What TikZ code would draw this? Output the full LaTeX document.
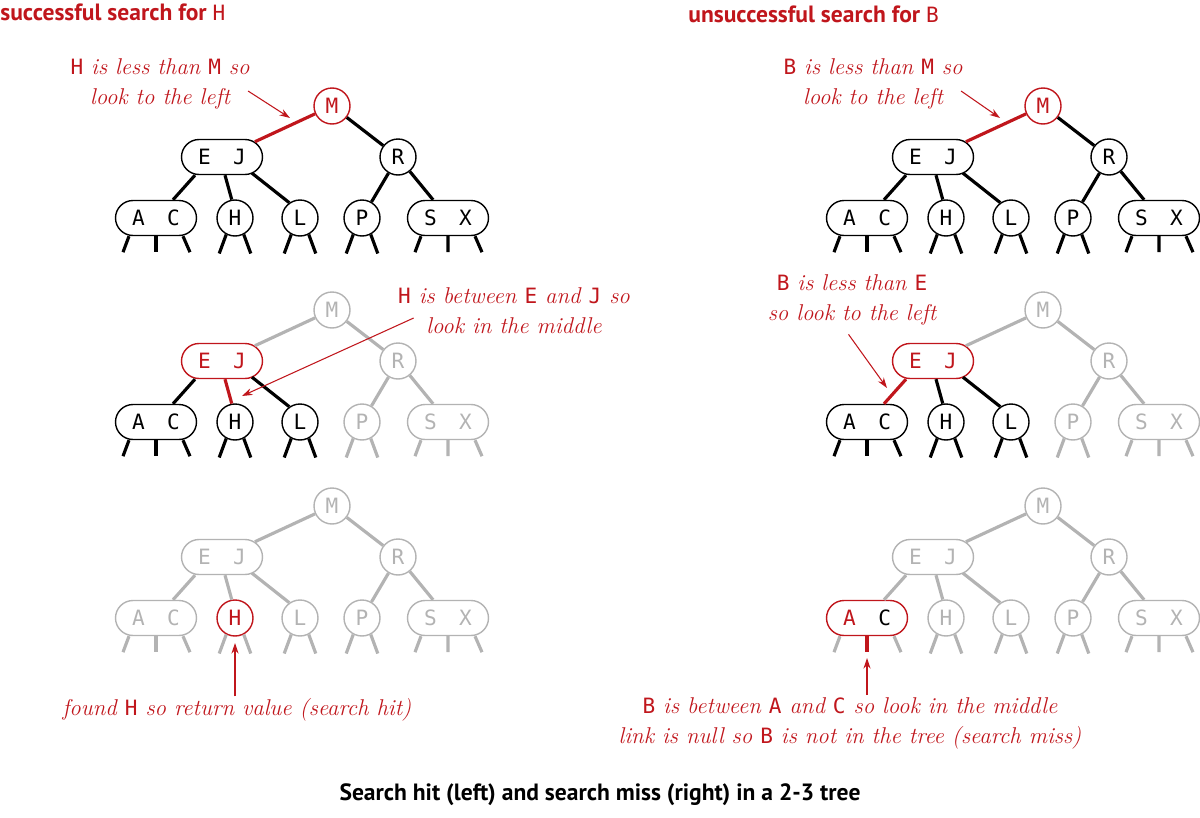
\documentclass[tikz,border=0pt]{standalone}
\usepackage{fontspec}
\usepackage{xcolor}
\usepackage{tikz}
\usetikzlibrary{arrows.meta, calc, shapes.misc}
\newfontfamily\keyfont{DejaVu Sans Mono}
\newfontfamily\headfont{PT Sans}
\definecolor{tred}{HTML}{C0161C}
\definecolor{tgray}{HTML}{B3B3B3}
\newcommand\kk[1]{{\keyfont\upshape\mdseries\fontsize{12}{12}\selectfont #1}}

\tikzset{
  key/.style={circle, draw, line width=0.8pt, minimum size=0.72cm, inner sep=0pt,
    font=\keyfont\fontsize{12}{12}\selectfont},
  pair/.style={rounded rectangle, draw, line width=0.8pt, minimum width=1.62cm,
    minimum height=0.7cm, inner sep=0pt, font=\keyfont\fontsize{12}{12}\selectfont},
  link/.style={line width=1.8pt},
  on/.style={draw=black, text=black},
  dim/.style={draw=tgray, text=tgray},
  hot/.style={draw=tred, text=tred},
  pointer/.style={draw=tred, line width=0.6pt, -{Stealth[length=6pt, width=4pt]}},
  note/.style={text=tred, font=\itshape\fontsize{13}{17}\selectfont, align=center, inner sep=1pt},
  head/.style={font=\headfont\bfseries\fontsize{13.4}{15}\selectfont, anchor=base west, inner sep=0pt},
  % every part of a tree is black unless a scope says otherwise
  vM/.style={on}, vEJ/.style={on}, vR/.style={on}, vAC/.style={on},
  vH/.style={on}, vL/.style={on}, vP/.style={on}, vSX/.style={on},
  eMEJ/.style={on}, eMR/.style={on}, eEJAC/.style={on}, eEJH/.style={on},
  eEJL/.style={on}, eRP/.style={on}, eRSX/.style={on},
  nAC/.style={on}, nACm/.style={on}, nH/.style={on}, nL/.style={on},
  nP/.style={on}, nSX/.style={on},
  acol/.store in=\acol, acol=.,
  fadetop/.style={vM/.style={dim}, vR/.style={dim}, vP/.style={dim}, vSX/.style={dim},
    eMEJ/.style={dim}, eMR/.style={dim}, eRP/.style={dim}, eRSX/.style={dim},
    nP/.style={dim}, nSX/.style={dim}},
  fadeall/.style={fadetop, vEJ/.style={dim}, vAC/.style={dim}, vH/.style={dim},
    vL/.style={dim}, eEJAC/.style={dim}, eEJH/.style={dim}, eEJL/.style={dim},
    nAC/.style={dim}, nACm/.style={dim}, nH/.style={dim}, nL/.style={dim}},
}

% one 2-3 tree, #1 = prefix of its node names
\newcommand\twothree[1]{%
  \node[key, vM]   (#1M)  at (332,106) {M};
  \node[pair, vEJ] (#1EJ) at (222,157) {E\hspace{0.45cm}J};
  \node[key, vR]   (#1R)  at (398,157) {R};
  \node[pair, vAC] (#1AC) at (156,218) {\textcolor{\acol}{A}\hspace{0.45cm}C};
  \node[key, vH]   (#1H)  at (235,218) {H};
  \node[key, vL]   (#1L)  at (300,218) {L};
  \node[key, vP]   (#1P)  at (362,218) {P};
  \node[pair, vSX] (#1SX) at (448,218) {S\hspace{0.45cm}X};
  \draw[link, eMEJ] (#1M) -- (#1EJ);
  \draw[link, eMR] (#1M) -- (#1R);
  \draw[link, eEJAC] ($(#1EJ.south)+(-27,0)$) -- ($(#1AC.north)+(17,0)$);
  \draw[link, eEJH] ($(#1EJ.south)+(3,0)$) -- (#1H.100);
  \draw[link, eEJL] ($(#1EJ.south)+(30,-2)$) -- (#1L.125);
  \draw[link, eRP] (#1R) -- (#1P);
  \draw[link, eRSX] (#1R) -- (#1SX);
  % null links
  \draw[link, nAC] ($(#1AC.south)+(-27,0)$) -- ++(-6,16) ($(#1AC.south)+(27,0)$) -- ++(7,16);
  \draw[link, nACm] (#1AC.south) -- ++(0,16);
  \draw[link, nH] (#1H.242) -- ++(-7,19) (#1H.298) -- ++(7,19);
  \draw[link, nL] (#1L.242) -- ++(-7,19) (#1L.298) -- ++(7,19);
  \draw[link, nP] (#1P.242) -- ++(-7,19) (#1P.298) -- ++(7,19);
  \draw[link, nSX] ($(#1SX.south)+(-27,0)$) -- ++(-6,16) (#1SX.south) -- ++(0,16)
    ($(#1SX.south)+(27,0)$) -- ++(7,16);
}

\begin{document}
\begin{tikzpicture}[x=0.02cm, y=-0.02cm]
\useasboundingbox (0,0) rectangle (1200,818);

\node[head, text=tred] (headL) at (0,20) {successful search for \kk{H}};
\node[head, text=tred] (headR) at (688,22) {unsuccessful search for \kk{B}};

% search hit
\begin{scope}[vM/.style={hot}, eMEJ/.style={hot}]
  \twothree{L1}
\end{scope}
\begin{scope}[shift={(0,204)}, fadetop, vEJ/.style={hot}, eEJH/.style={hot}]
  \twothree{L2}
\end{scope}
\begin{scope}[shift={(0,400)}, fadeall, vH/.style={hot}, nH/.style={dim}]
  \twothree{L3}
\end{scope}

% search miss
\begin{scope}[shift={(711,0)}, vM/.style={hot}, eMEJ/.style={hot}]
  \twothree{R1}
\end{scope}
\begin{scope}[shift={(711,204)}, fadetop, vEJ/.style={hot}, eEJAC/.style={hot}]
  \twothree{R2}
\end{scope}
\begin{scope}[shift={(711,400)}, fadeall, vAC/.style={draw=tred, text=black}, acol=tred,
    nACm/.style={hot}]
  \twothree{R3}
\end{scope}

% remarks
\node[note] (noteL1) at (160,84) {\kk{H} is less than \kk{M} so\\look to the left};
\coordinate (tipL1) at (290,118);
\draw[pointer] ([xshift=-2pt, yshift=-4pt]noteL1.east) -- (tipL1);

\node[note] (noteL2) at (514,311) {\kk{H} is between \kk{E} and \kk{J} so\\look in the middle};
\coordinate (tipL2) at (242,396);
\draw[pointer] ([xshift=10pt, yshift=-4pt]noteL2.west) -- (tipL2);

\node[note] (noteL3) at (237,710) {found \kk{H} so return value (search hit)};
\coordinate (tipL3) at (235,643);
\draw[pointer] (noteL3.north -| tipL3) -- (tipL3);

\node[note] (noteR1) at (873,84) {\kk{B} is less than \kk{M} so\\look to the left};
\coordinate (tipR1) at (1000,118);
\draw[pointer] ([xshift=-2pt, yshift=-4pt]noteR1.east) -- (tipR1);

\node[note] (noteR2) at (852,300) {\kk{B} is less than \kk{E}\\so look to the left};
\coordinate (tipR2) at (887,388);
\draw[pointer] ([xshift=-2pt, yshift=-4pt]noteR2.south) -- (tipR2);

\node[note] (noteR3) at (850,723) {\kk{B} is between \kk{A} and \kk{C} so look in the middle\\link is null so \kk{B} is not in the tree (search miss)};
\coordinate (tipR3) at (867,658);
\draw[pointer] (noteR3.north -| tipR3) -- (tipR3);

\node[head, anchor=base] (caption)
  at (600,800) {Search hit (left) and search miss (right) in a 2-3 tree};
\end{tikzpicture}
\end{document}
